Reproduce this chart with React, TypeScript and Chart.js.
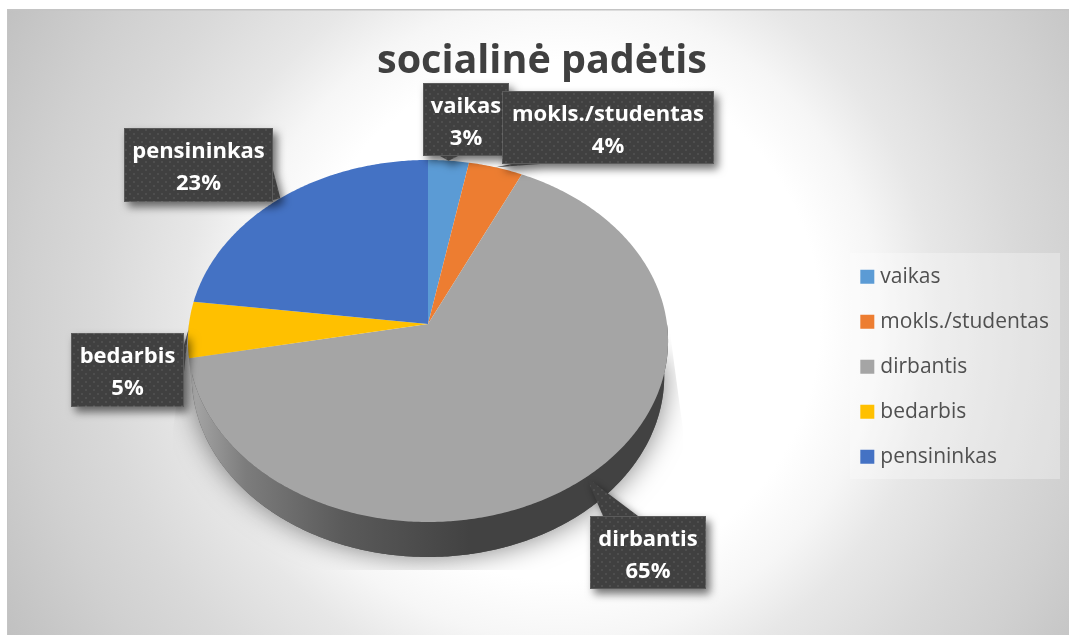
import React, { useEffect, useRef } from "react";
import { Chart, registerables } from "chart.js";

Chart.register(...registerables);

const categories = ["vaikas", "mokls./studentas", "dirbantis", "bedarbis", "pensininkas"];
const shares = [3, 4, 65, 5, 23];
const sliceColors = ["#5B9BD5", "#ED7D31", "#A5A5A5", "#FFC000", "#4472C4"];
const chartTitle = "socialinė padėtis";

const FONT = "'Open Sans', sans-serif";
const W = 1069;
const H = 635;
const FRAME = { x: 7, y: 9, w: 1062, h: 626 };
// perspective of the tilted pie; foot = horizontal shrink of the lower rim
const PIE = { cx: 428, cy: 324, r: 239, a: 179.4, k: -0.0939, depth: 35, foot: 0.984 };
// callout boxes in the order of the categories; notch = where the pointer leaves the box
const callouts = [
  { x: 423, y: 83, w: 86, h: 73, notch: [440, 156, 458, 156] },
  { x: 502, y: 91, w: 212, h: 73, notch: [512, 164, 540, 164] },
  { x: 590, y: 516, w: 116, h: 73, notch: [603, 516, 638, 516] },
  { x: 71, y: 333, w: 113, h: 74, notch: [184, 345, 184, 372] },
  { x: 124, y: 128, w: 149, h: 74, notch: [273, 170, 273, 200] },
];

function project(angle: number, lower = false): [number, number] {
  const u = Math.cos(angle);
  const v = Math.sin(angle);
  const d = 1 + PIE.k * v;
  const x = (PIE.r * u) / d;
  const y = PIE.cy + (PIE.a * v) / d;
  return lower ? [PIE.cx + x * PIE.foot, y + PIE.depth] : [PIE.cx + x, y];
}

function rim(ctx: CanvasRenderingContext2D, from: number, to: number, lower = false, move = false) {
  const n = Math.max(2, Math.ceil(Math.abs(to - from) / 0.01));
  for (let i = 0; i <= n; i++) {
    const [x, y] = project(from + ((to - from) * i) / n, lower);
    if (i === 0 && move) ctx.moveTo(x, y);
    else ctx.lineTo(x, y);
  }
}

function dotPattern(ctx: CanvasRenderingContext2D) {
  const c = document.createElement("canvas");
  c.width = 8;
  c.height = 8;
  const p = c.getContext("2d")!;
  p.fillStyle = "#404040";
  p.fillRect(0, 0, 8, 8);
  p.fillStyle = "#4e4e4e";
  p.fillRect(1, 1, 2, 2);
  p.fillRect(5, 5, 2, 2);
  return ctx.createPattern(c, "repeat")!;
}

const backdrop = {
  id: "backdrop",
  beforeDraw(chart: any) {
    const ctx: CanvasRenderingContext2D = chart.ctx;
    ctx.save();
    ctx.fillStyle = "#ffffff";
    ctx.fillRect(0, 0, W, H);
    const g = ctx.createRadialGradient(560, 320, 0, 560, 320, 640);
    g.addColorStop(0, "#ffffff");
    g.addColorStop(260 / 640, "#ffffff");
    g.addColorStop(320 / 640, "#f6f6f6");
    g.addColorStop(376 / 640, "#e7e7e7");
    g.addColorStop(463 / 640, "#d9d9d9");
    g.addColorStop(534 / 640, "#d0d0d0");
    g.addColorStop(1, "#c0c0c0");
    ctx.fillStyle = g;
    ctx.fillRect(FRAME.x, FRAME.y, FRAME.w, FRAME.h);
    ctx.fillStyle = "#c4c4c4";
    ctx.fillRect(FRAME.x, FRAME.y, FRAME.w, 1.5);
    ctx.fillRect(FRAME.x, FRAME.y, 1, FRAME.h);
    ctx.fillStyle = "rgba(255,255,255,0.3)";
    ctx.fillRect(850, 253, 210, 226);
    ctx.restore();
  },
};

const tiltedPie = {
  id: "tiltedPie",
  beforeDatasetDraw(chart: any, args: any) {
    const ctx: CanvasRenderingContext2D = chart.ctx;
    const arcs = args.meta.data;
    ctx.save();
    // soft shadow under the pie, cut off by its own trapezoid
    ctx.save();
    ctx.beginPath();
    ctx.moveTo(187, 325);
    ctx.lineTo(669, 325);
    ctx.lineTo(683, 430);
    ctx.lineTo(683, 570);
    ctx.lineTo(173, 570);
    ctx.lineTo(173, 430);
    ctx.closePath();
    ctx.clip();
    ctx.shadowColor = "rgba(0,0,0,0.5)";
    ctx.shadowBlur = 28;
    ctx.fillStyle = "#555";
    ctx.beginPath();
    rim(ctx, 0, Math.PI, true, true);
    ctx.closePath();
    ctx.fill();
    ctx.restore();
    // side wall
    const wall = ctx.createLinearGradient(190, 0, 470, 0);
    wall.addColorStop(0, "#a8a8a8");
    wall.addColorStop(0.2, "#7c7c7c");
    wall.addColorStop(0.55, "#5a5a5a");
    wall.addColorStop(1, "#424242");
    arcs.forEach((arc: any, i: number) => {
      const s = Math.max(arc.startAngle, 0);
      const e = Math.min(arc.endAngle, Math.PI);
      if (e <= s) return;
      ctx.beginPath();
      rim(ctx, s, e, false, true);
      rim(ctx, e, s, true);
      ctx.closePath();
      ctx.fillStyle = i === 2 ? wall : "#a8a8a8";
      ctx.fill();
    });
    // top face
    arcs.forEach((arc: any, i: number) => {
      ctx.beginPath();
      ctx.moveTo(PIE.cx, PIE.cy);
      rim(ctx, arc.startAngle, arc.endAngle);
      ctx.closePath();
      ctx.fillStyle = sliceColors[i];
      ctx.fill();
    });
    ctx.restore();
    return false;
  },
};

const calloutLabels = {
  id: "calloutLabels",
  afterDraw(chart: any) {
    const ctx: CanvasRenderingContext2D = chart.ctx;
    const arcs = chart.getDatasetMeta(0).data;
    const pattern = dotPattern(ctx);
    callouts.forEach((b, i) => {
      const mid = (arcs[i].startAngle + arcs[i].endAngle) / 2;
      const [tx, ty] = project(mid);
      ctx.save();
      ctx.shadowColor = "rgba(0,0,0,0.55)";
      ctx.shadowBlur = 8;
      ctx.shadowOffsetX = 4;
      ctx.shadowOffsetY = 5;
      ctx.fillStyle = pattern;
      ctx.beginPath();
      ctx.rect(b.x, b.y, b.w, b.h);
      ctx.moveTo(b.notch[0], b.notch[1]);
      ctx.lineTo(tx, ty);
      ctx.lineTo(b.notch[2], b.notch[3]);
      ctx.closePath();
      ctx.fill("nonzero");
      ctx.restore();
      ctx.save();
      ctx.strokeStyle = "rgba(255,255,255,0.14)";
      ctx.lineWidth = 1;
      ctx.strokeRect(b.x + 0.5, b.y + 0.5, b.w - 1, b.h - 1);
      ctx.fillStyle = "#ffffff";
      ctx.font = `700 22px ${FONT}`;
      ctx.textAlign = "center";
      ctx.textBaseline = "middle";
      const cx = b.x + b.w / 2;
      const cy = b.y + b.h / 2;
      ctx.fillText(categories[i], cx, cy - 13);
      ctx.fillText(`${shares[i]}%`, cx, cy + 19);
      ctx.restore();
    });
  },
};

export default function App() {
  const ref = useRef<HTMLCanvasElement>(null);
  useEffect(() => {
    document.body.style.margin = "0";
    const chart = new Chart(ref.current!, {
      type: "pie",
      data: {
        labels: categories,
        datasets: [{ data: shares, backgroundColor: sliceColors, borderWidth: 0 }],
      },
      options: {
        responsive: false,
        animation: false,
        devicePixelRatio: 1,
        layout: { padding: { left: 25, right: 10 } },
        plugins: {
          tooltip: { enabled: false },
          title: {
            display: true,
            text: chartTitle,
            color: "#404040",
            font: { family: FONT, size: 39.5, weight: "bold" },
            padding: { top: 38, bottom: 13 },
          },
          legend: {
            position: "right",
            fullSize: false,
            labels: {
              color: "#505050",
              font: { family: FONT, size: 21 },
              boxWidth: 5,
              boxHeight: 5,
              padding: 24,
              generateLabels: (c: any) =>
                (Chart as any).overrides.pie.plugins.legend.labels
                  .generateLabels(c)
                  .map((l: any) => ({ ...l, lineWidth: 9, strokeStyle: l.fillStyle })),
            },
          },
        },
      } as any,
      plugins: [backdrop, tiltedPie, calloutLabels],
    });
    return () => chart.destroy();
  }, []);
  return <canvas ref={ref} width={W} height={H} style={{ display: "block" }} />;
}
